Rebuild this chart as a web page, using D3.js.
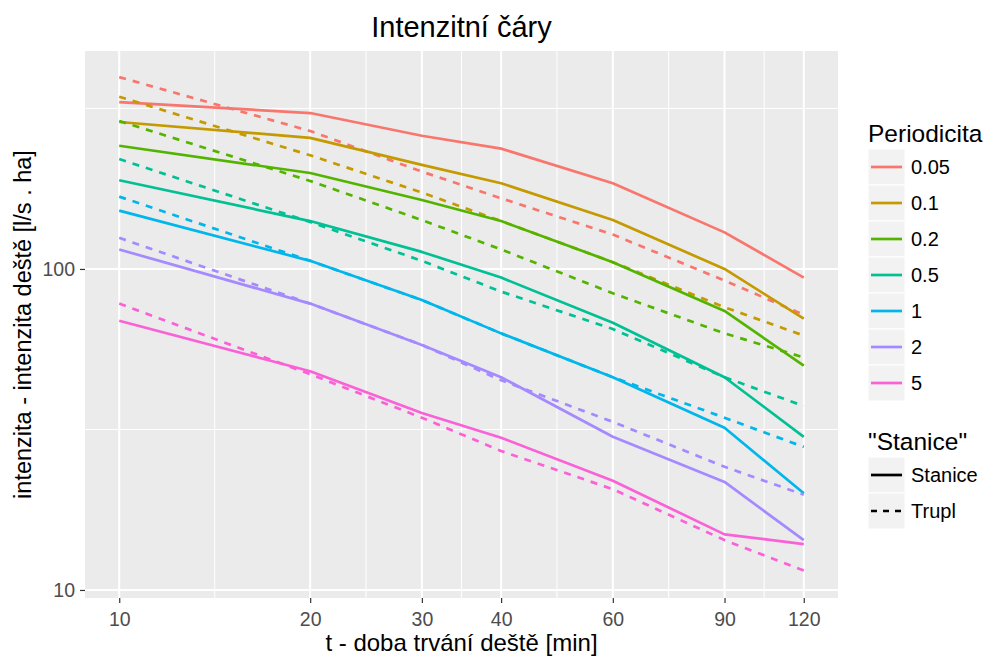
<!DOCTYPE html>
<html><head><meta charset="utf-8">
<script src="https://cdn.jsdelivr.net/npm/d3@7"></script>
<style>body{margin:0;background:#fff;} text{font-family:"Liberation Sans",Arial,sans-serif;}</style>
</head><body><svg id="c" width="985" height="658"></svg>
<script>
// ---- data ----
const durations = [10, 20, 30, 40, 60, 90, 120];
const periods = ["0.05", "0.1", "0.2", "0.5", "1", "2", "5"];
const colors = ["#F8766D", "#C49A00", "#53B400", "#00C094", "#00B6EB", "#A58AFF", "#FB61D7"];
const sources = ["Stanice", "Trupl"];
// Stanice (solid)
const stanice_005 = [331, 306, 260, 237, 185, 130, 94];
const stanice_01  = [287, 256, 211, 185, 142, 100, 70];
const stanice_02  = [242, 199, 164, 141, 105, 74, 50];
const stanice_05  = [189, 141, 113, 94, 68, 46, 30];
const stanice_1   = [152, 106, 80, 63, 46, 32, 20];
const stanice_2   = [115, 78, 58, 46, 30, 21.7, 14.3];
const stanice_5   = [69, 48, 35.6, 29.8, 21.9, 14.9, 13.9];
// Trupl (dashed)
const trupl_005 = [396, 269, 201, 166, 128, 92, 72];
const trupl_01  = [344, 226, 173, 141, 105, 76, 62];
const trupl_02  = [289, 188, 142, 115, 84, 63, 53];
const trupl_05  = [220, 140, 106, 85, 65, 46, 37.4];
const trupl_1   = [168, 106, 80, 63, 46, 34.4, 27.9];
const trupl_2   = [125, 78, 58, 45, 33.4, 24.2, 19.8];
const trupl_5   = [78, 47, 34.4, 27.1, 20.6, 14.3, 11.5];
const xTicks = [10, 20, 30, 40, 60, 90, 120];
const yTicks = [10, 100];
const yLimits = [9.44, 477.5];

const staniceSeries = [stanice_005, stanice_01, stanice_02, stanice_05, stanice_1, stanice_2, stanice_5];
const truplSeries = [trupl_005, trupl_01, trupl_02, trupl_05, trupl_1, trupl_2, trupl_5];

// ---- layout ----
const svg = d3.select("#c");
const P = {l: 85, r: 838, t: 51, b: 598};
const xr = Math.log10(xTicks[xTicks.length-1]) - Math.log10(xTicks[0]);
const xe = 0.05 * xr;
const x = d3.scaleLog().domain([xTicks[0] / Math.pow(10, xe), xTicks[xTicks.length-1] * Math.pow(10, xe)]).range([P.l, P.r]);
const y = d3.scaleLog().domain(yLimits).range([P.b, P.t]);

svg.append("rect").attr("x", P.l).attr("y", P.t).attr("width", P.r - P.l).attr("height", P.b - P.t).attr("fill", "#EBEBEB");

// minor gridlines
const xMinor = d3.pairs(xTicks).map(([a, b]) => Math.sqrt(a * b));
const yMinor = [Math.sqrt(10 * 100), Math.sqrt(100 * 1000)];
const g = svg.append("g");
g.selectAll(".xm").data(xMinor).join("line").attr("x1", d => x(d)).attr("x2", d => x(d)).attr("y1", P.t).attr("y2", P.b).attr("stroke", "#fff").attr("stroke-width", 1);
g.selectAll(".ym").data(yMinor).join("line").attr("y1", d => y(d)).attr("y2", d => y(d)).attr("x1", P.l).attr("x2", P.r).attr("stroke", "#fff").attr("stroke-width", 1);
g.selectAll(".xM").data(xTicks).join("line").attr("x1", d => x(d)).attr("x2", d => x(d)).attr("y1", P.t).attr("y2", P.b).attr("stroke", "#fff").attr("stroke-width", 2);
g.selectAll(".yM").data(yTicks).join("line").attr("y1", d => y(d)).attr("y2", d => y(d)).attr("x1", P.l).attr("x2", P.r).attr("stroke", "#fff").attr("stroke-width", 2);

// lines
const line = d3.line().x((d, i) => x(durations[i])).y(d => y(d));
const lg = svg.append("g").attr("fill", "none").attr("stroke-width", 2.7).attr("stroke-linejoin", "round");
periods.forEach((p, i) => {
  lg.append("path").attr("d", line(staniceSeries[i])).attr("stroke", colors[i]);
  lg.append("path").attr("d", line(truplSeries[i])).attr("stroke", colors[i]).attr("stroke-dasharray", "7,7");
});

// axes
const xAxis = d3.axisBottom(x).tickValues(xTicks).tickFormat(d3.format("d")).tickSize(5).tickPadding(9);
const xg = svg.append("g").attr("transform", `translate(0,${P.b})`).call(xAxis);
const yAxis = d3.axisLeft(y).tickValues(yTicks).tickFormat(d3.format("d")).tickSize(5).tickPadding(5);
const yg = svg.append("g").attr("transform", `translate(${P.l},0)`).call(yAxis);
[xg, yg].forEach(a => {
  a.select(".domain").remove();
  a.selectAll(".tick line").attr("stroke", "#333").attr("stroke-width", 1.2);
  a.selectAll(".tick text").attr("fill", "#4D4D4D").style("font-size", "19.5px").style("font-family", '"Liberation Sans",Arial,sans-serif');
});
yg.selectAll(".tick text").attr("dy", "0.34em");

// titles
svg.append("text").attr("x", (P.l + P.r) / 2).attr("y", 37).attr("text-anchor", "middle").style("font-size", "29px").attr("fill", "#000").text("Intenzitní čáry");
svg.append("text").attr("x", (P.l + P.r) / 2).attr("y", 651).attr("text-anchor", "middle").style("font-size", "24px").attr("fill", "#000").text("t - doba trvání deště [min]");
svg.append("text").attr("transform", `translate(31,${(P.t + P.b) / 2}) rotate(-90)`).attr("text-anchor", "middle").style("font-size", "23.5px").attr("fill", "#000").text("intenzita - intenzita deště [l/s . ha]");

// legend 1
const L = {x: 868, w: 37, h: 36};
svg.append("text").attr("x", L.x).attr("y", 142).style("font-size", "24.5px").attr("fill", "#000").text("Periodicita");
const l1 = svg.append("g");
periods.forEach((p, i) => {
  const top = 149 + i * L.h;
  l1.append("rect").attr("x", L.x).attr("y", top).attr("width", L.w).attr("height", L.h).attr("fill", "#F2F2F2").attr("stroke", "#fff").attr("stroke-width", 1);
  l1.append("line").attr("x1", L.x + 3).attr("x2", L.x + L.w - 3).attr("y1", top + L.h / 2).attr("y2", top + L.h / 2).attr("stroke", colors[i]).attr("stroke-width", 2.7);
  l1.append("text").attr("x", 911).attr("y", top + L.h / 2 + 7).style("font-size", "20px").attr("fill", "#000").text(p);
});

// legend 2
svg.append("text").attr("x", L.x).attr("y", 450).style("font-size", "24.5px").attr("fill", "#000").text('"Stanice"');
const l2 = svg.append("g");
sources.forEach((s, i) => {
  const top = 457 + i * L.h;
  l2.append("rect").attr("x", L.x).attr("y", top).attr("width", L.w).attr("height", L.h).attr("fill", "#F2F2F2").attr("stroke", "#fff").attr("stroke-width", 1);
  const ln = l2.append("line").attr("x1", L.x + 3).attr("x2", L.x + L.w - 3).attr("y1", top + L.h / 2).attr("y2", top + L.h / 2).attr("stroke", "#000").attr("stroke-width", 2.7);
  if (i === 1) ln.attr("stroke-dasharray", "6,6");
  l2.append("text").attr("x", 911).attr("y", top + L.h / 2 + 7).style("font-size", "20px").attr("fill", "#000").text(s);
});
</script></body></html>
